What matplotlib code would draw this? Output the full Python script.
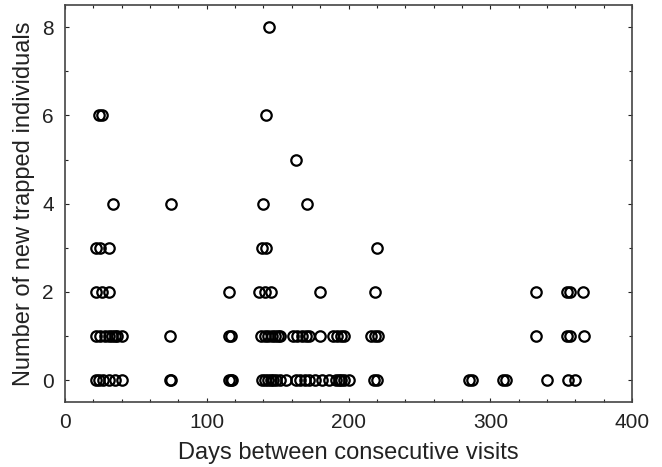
import matplotlib
matplotlib.use("Agg")
import matplotlib.pyplot as plt
from matplotlib.ticker import MultipleLocator

# days between consecutive visits, grouped by number of new trapped individuals
days_n0 = [22, 24, 27, 31, 35, 40, 74, 75, 116, 117, 118,
           139, 141, 143, 145, 147, 149, 152, 156,
           163, 166, 169, 172, 176, 181, 186, 191, 193, 195, 197, 200,
           218, 220, 285, 287, 309, 311, 340, 355, 360]
days_n1 = [22, 25, 28, 31, 33, 35, 37, 40, 74, 116, 117,
           138, 141, 143, 146, 148, 150, 152,
           161, 164, 167, 170, 172, 180, 189, 192, 195, 197,
           216, 219, 221, 332, 354, 356, 366]
days_n2 = [22, 26, 31, 116, 137, 141, 145, 180, 219, 332, 354, 356, 365]
days_n3 = [22, 25, 31, 139, 142, 220]
days_n4 = [34, 75, 140, 171]
days_n5 = [163]
days_n6 = [24, 26, 142]
days_n8 = [144]

groups = [(0, days_n0), (1, days_n1), (2, days_n2), (3, days_n3),
          (4, days_n4), (5, days_n5), (6, days_n6), (8, days_n8)]

days = []
new_trapped = []
for n, d in groups:
    days += d
    new_trapped += [n] * len(d)

plt.rcParams["font.family"] = ["Liberation Sans", "DejaVu Sans"]

fig = plt.figure(figsize=(6.62, 4.67), dpi=100)
ax = fig.add_axes([0.098, 0.139, 0.857, 0.85])

ax.plot(days, new_trapped, "o", mfc="none", mec="black", ms=7.5, mew=1.6,
        linestyle="none")

ax.set_xlim(0, 400)
ax.set_ylim(-0.5, 8.5)
ax.xaxis.set_major_locator(MultipleLocator(100))
ax.xaxis.set_minor_locator(MultipleLocator(20))
ax.yaxis.set_major_locator(MultipleLocator(2))
ax.yaxis.set_minor_locator(MultipleLocator(1))
ax.tick_params(which="both", direction="in", top=True, right=True,
               labelsize=15, colors="#222222")
ax.tick_params(which="major", length=3, width=0.8, pad=8)
ax.tick_params(which="minor", length=2.5, width=0.8)
for s in ax.spines.values():
    s.set_color("#444444")
    s.set_linewidth(1.2)

ax.set_xlabel("Days between consecutive visits", fontsize=17, labelpad=7,
              color="#222222")
ax.set_ylabel("Number of new trapped individuals", fontsize=17, labelpad=5,
              color="#222222")

fig.savefig("out.png", dpi=100)
plt.close(fig)
